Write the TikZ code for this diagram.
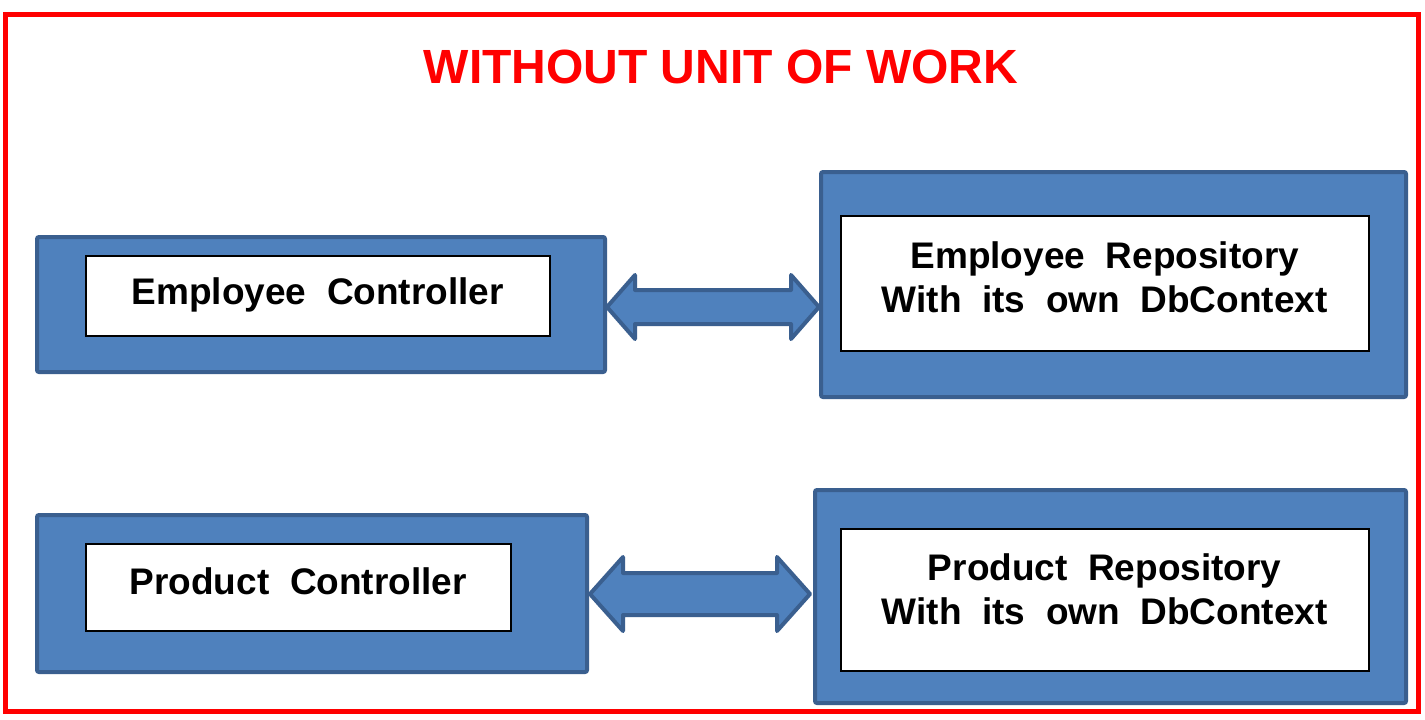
\documentclass[tikz,border=0pt]{standalone}
\usepackage{fontspec}
\setmainfont{Liberation Sans}
\usetikzlibrary{calc}
\definecolor{bfill}{HTML}{4F81BD}
\definecolor{bdraw}{HTML}{3A5F8F}
\definecolor{tred}{HTML}{FF0000}
\begin{document}
\begin{tikzpicture}[x=1pt,y=-1pt,
  outerbox/.style={draw=bdraw,fill=bfill,line width=4pt,rounded corners=2pt},
  innerbox/.style={draw=black,fill=white,line width=1.5pt},
  lbl/.style={font=\bfseries\fontsize{37}{44}\selectfont,align=center,text=black},
  dblarrow/.style={draw=bdraw,fill=bfill,line width=4pt,line join=round}]
\useasboundingbox (0,0) rectangle (1425,720);
\fill[white] (0,0) rectangle (1425,720);
\draw[tred,line width=5pt] (5,14) rectangle (1418,711);
\node[font=\bfseries\fontsize{48}{56}\selectfont,text=tred] (title) at (721,67) {WITHOUT UNIT OF WORK};
% Employee controller
\draw[outerbox] (37,237) rectangle (605,372);
\node[innerbox,minimum width=464pt,minimum height=80pt,anchor=north west] (ec) at (85,255) {};
\node[lbl] at ($(ec.center)+(0,-1)$) {Employee\ \ Controller};
% Employee repository
\draw[outerbox] (821,172) rectangle (1406,397);
\node[innerbox,minimum width=528pt,minimum height=135pt,anchor=north west] (er) at (840,215) {};
\node[lbl] at ($(er.center)+(0,-6)$) {Employee\ \ Repository\\With\ \ its\ \ own\ \ DbContext};
% Product controller
\draw[outerbox] (37,515) rectangle (587,672);
\node[innerbox,minimum width=425pt,minimum height=87pt,anchor=north west] (pc) at (85,543) {};
\node[lbl] at ($(pc.center)+(0,-6)$) {Product\ \ Controller};
% Product repository
\draw[outerbox] (815,490) rectangle (1406,703);
\node[innerbox,minimum width=528pt,minimum height=142pt,anchor=north west] (pr) at (840,528) {};
\node[lbl] at ($(pr.center)+(0,-10)$) {Product\ \ Repository\\With\ \ its\ \ own\ \ DbContext};
% arrows
\coordinate (a1l) at (607,307);
\coordinate (a1r) at (819,307);
\draw[dblarrow] (a1l) -- ++(28,-32) -- ++(0,15) -- ($(a1r)+(-28,-17)$) -- ++(0,-15) -- (a1r) -- ++(-28,32) -- ++(0,-15) -- ($(a1l)+(28,17)$) -- ++(0,15) -- cycle;
\coordinate (a2l) at (590,594);
\coordinate (a2r) at (810,594);
\draw[dblarrow] (a2l) -- ++(33,-37) -- ++(0,16) -- ($(a2r)+(-33,-21)$) -- ++(0,-16) -- (a2r) -- ++(-33,37) -- ++(0,-16) -- ($(a2l)+(33,21)$) -- ++(0,16) -- cycle;
\end{tikzpicture}
\end{document}
